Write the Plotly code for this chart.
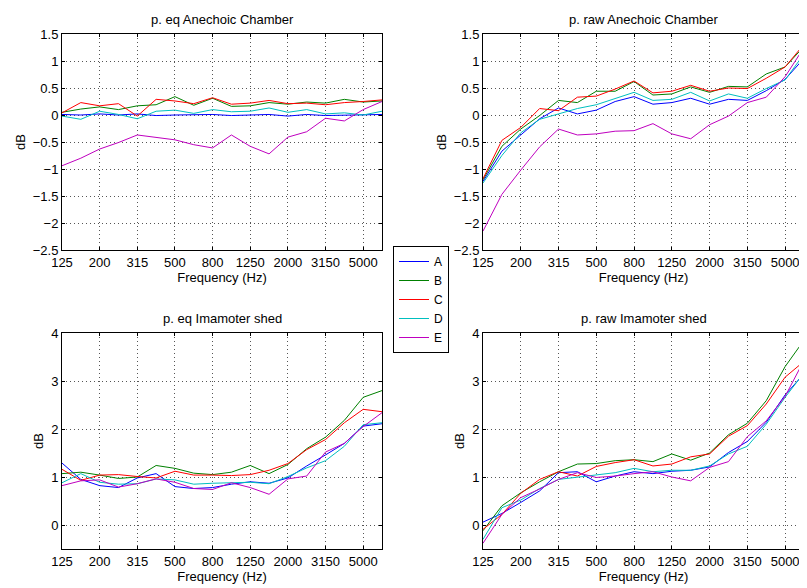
import plotly.graph_objects as go
from plotly.subplots import make_subplots

freq_labels = ["125", "160", "200", "250", "315", "400", "500", "630", "800", "1000",
               "1250", "1600", "2000", "2500", "3150", "4000", "5000", "6300"]
band_idx = list(range(len(freq_labels)))
tick_idx = [0, 2, 4, 6, 8, 10, 12, 14, 16]
tick_text = [freq_labels[i] for i in tick_idx]

series_names = ["A", "B", "C", "D", "E"]
series_colors = ["#0000FF", "#008000", "#FF0000", "#00BFBF", "#BF00BF"]

# p. eq Anechoic Chamber
eq_anech_A = [0.01, 0.0, 0.02, 0.0, 0.02, -0.01, 0.0, 0.0, 0.01, -0.01, 0.0, 0.01, -0.02, 0.01, -0.01, 0.0, 0.01, 0.01]
eq_anech_B = [0.05, 0.11, 0.15, 0.10, 0.17, 0.19, 0.34, 0.18, 0.31, 0.16, 0.17, 0.23, 0.20, 0.24, 0.22, 0.29, 0.24, 0.26]
eq_anech_C = [0.04, 0.23, 0.17, 0.21, -0.02, 0.29, 0.26, 0.21, 0.32, 0.20, 0.22, 0.27, 0.21, 0.22, 0.19, 0.23, 0.25, 0.28]
eq_anech_D = [-0.02, -0.08, 0.07, 0.01, -0.07, 0.07, 0.09, 0.03, 0.10, 0.06, 0.07, 0.13, 0.05, 0.10, 0.02, 0.04, 0.0, 0.07]
eq_anech_E = [-0.94, -0.80, -0.63, -0.51, -0.37, -0.41, -0.46, -0.55, -0.61, -0.37, -0.58, -0.72, -0.41, -0.31, -0.06, -0.11, 0.10, 0.25]

# p. raw Anechoic Chamber
raw_anech_A = [-1.23, -0.67, -0.37, -0.07, 0.13, 0.02, 0.09, 0.25, 0.34, 0.20, 0.23, 0.31, 0.20, 0.29, 0.27, 0.45, 0.66, 1.05]
raw_anech_B = [-1.20, -0.58, -0.26, -0.01, 0.27, 0.23, 0.44, 0.44, 0.62, 0.37, 0.39, 0.52, 0.42, 0.53, 0.52, 0.76, 0.89, 1.27]
raw_anech_C = [-1.18, -0.47, -0.23, 0.12, 0.08, 0.33, 0.35, 0.48, 0.63, 0.41, 0.44, 0.55, 0.44, 0.50, 0.49, 0.68, 0.89, 1.31]
raw_anech_D = [-1.26, -0.75, -0.33, -0.08, 0.02, 0.12, 0.19, 0.31, 0.42, 0.27, 0.29, 0.42, 0.26, 0.39, 0.31, 0.49, 0.65, 1.13]
raw_anech_E = [-2.15, -1.47, -1.02, -0.59, -0.26, -0.37, -0.35, -0.30, -0.29, -0.16, -0.35, -0.44, -0.18, -0.02, 0.23, 0.33, 0.71, 1.25]

# p. eq Imamoter shed
eq_shed_A = [1.29, 0.95, 0.82, 0.78, 0.98, 1.07, 0.80, 0.76, 0.78, 0.85, 0.90, 0.87, 0.98, 1.23, 1.46, 1.70, 2.06, 2.11]
eq_shed_B = [1.07, 1.10, 1.04, 0.97, 1.00, 1.24, 1.18, 1.08, 1.05, 1.10, 1.24, 1.07, 1.26, 1.59, 1.83, 2.18, 2.66, 2.80]
eq_shed_C = [1.16, 0.93, 1.04, 1.05, 1.01, 0.98, 1.12, 1.04, 1.04, 1.03, 1.05, 1.14, 1.28, 1.57, 1.78, 2.13, 2.41, 2.36]
eq_shed_D = [0.88, 1.07, 0.89, 0.85, 0.86, 0.96, 0.94, 0.85, 0.87, 0.88, 0.89, 0.86, 1.01, 1.19, 1.34, 1.64, 2.09, 2.13]
eq_shed_E = [0.82, 0.92, 0.94, 0.79, 0.86, 0.96, 0.89, 0.76, 0.74, 0.88, 0.78, 0.64, 0.96, 1.02, 1.52, 1.70, 2.05, 2.34]

# p. raw Imamoter shed
raw_shed_A = [0.06, 0.24, 0.47, 0.71, 1.09, 1.11, 0.90, 1.02, 1.11, 1.07, 1.12, 1.14, 1.21, 1.51, 1.74, 2.14, 2.71, 3.15]
raw_shed_B = [-0.12, 0.40, 0.67, 0.90, 1.11, 1.27, 1.28, 1.34, 1.36, 1.32, 1.48, 1.35, 1.50, 1.88, 2.12, 2.59, 3.30, 3.85]
raw_shed_C = [-0.09, 0.22, 0.66, 0.95, 1.11, 1.02, 1.22, 1.30, 1.36, 1.23, 1.27, 1.42, 1.48, 1.85, 2.07, 2.52, 3.08, 3.41]
raw_shed_D = [-0.30, 0.36, 0.52, 0.76, 0.95, 1.00, 1.05, 1.09, 1.18, 1.11, 1.14, 1.14, 1.23, 1.48, 1.64, 2.10, 2.66, 3.17]
raw_shed_E = [-0.38, 0.22, 0.57, 0.75, 0.95, 1.09, 0.99, 1.02, 1.07, 1.11, 1.00, 0.92, 1.20, 1.32, 1.84, 2.17, 2.68, 3.43]

panels = [
    ("p. eq Anechoic Chamber", 1, 1, [eq_anech_A, eq_anech_B, eq_anech_C, eq_anech_D, eq_anech_E]),
    ("p. raw Anechoic Chamber", 1, 2, [raw_anech_A, raw_anech_B, raw_anech_C, raw_anech_D, raw_anech_E]),
    ("p. eq Imamoter shed", 2, 1, [eq_shed_A, eq_shed_B, eq_shed_C, eq_shed_D, eq_shed_E]),
    ("p. raw Imamoter shed", 2, 2, [raw_shed_A, raw_shed_B, raw_shed_C, raw_shed_D, raw_shed_E]),
]

top_yticks = [-2.5, -2, -1.5, -1, -0.5, 0, 0.5, 1, 1.5]
top_yticktext = ["\u22122.5", "\u22122", "\u22121.5", "\u22121", "\u22120.5", "0", "0.5", "1", "1.5"]
bot_yticks = [0, 1, 2, 3, 4]
bot_yticktext = ["0", "1", "2", "3", "4"]

# the browser page body adds an 8 px offset; the figure is made 8 px smaller and
# all pixel positions below are reference positions minus that offset
OFF = 8
W, H = 807 - OFF, 588 - OFF
FONT = "Liberation Sans, Arial, Helvetica, sans-serif"
FS = 13


def px_x(v):
    return (v - OFF) / W


def px_y(v):
    return 1 - (v - OFF) / H


fig = make_subplots(rows=2, cols=2)

for p, (title, r, c, data) in enumerate(panels):
    for k, (name, color, ys) in enumerate(zip(series_names, series_colors, data)):
        fig.add_trace(go.Scatter(x=band_idx, y=ys, mode="lines", name=name,
                                 line=dict(color=color, width=1),
                                 showlegend=(p == 0)), row=r, col=c)

x_doms = {1: [px_x(62), px_x(382)], 2: [px_x(483), px_x(804)]}
y_doms = {1: [px_y(250), px_y(34)], 2: [px_y(549), px_y(333)]}

axis_common = dict(showline=True, linecolor="black", linewidth=1, mirror="ticks",
                   ticks="inside", ticklen=3, tickcolor="black", automargin=False,
                   showgrid=True, gridcolor="#555555", griddash="1px,3px", gridwidth=1,
                   zeroline=False, tickfont=dict(family=FONT, size=FS, color="black"))

for title, r, c, data in panels:
    fig.update_xaxes(domain=x_doms[c], range=[0, 17], tickvals=tick_idx, ticktext=tick_text,
                     title=dict(text="Frequency (Hz)", font=dict(family=FONT, size=FS, color="black"), standoff=1),
                     row=r, col=c, **axis_common)
    if r == 1:
        fig.update_yaxes(domain=y_doms[r], range=[-2.5, 1.5], tickvals=top_yticks, ticktext=top_yticktext,
                         row=r, col=c, **axis_common)
    else:
        fig.update_yaxes(domain=y_doms[r], range=[-0.5, 4], tickvals=bot_yticks, ticktext=bot_yticktext,
                         row=r, col=c, **axis_common)
    fig.update_yaxes(title=dict(text="dB", font=dict(family=FONT, size=FS, color="black"), standoff=4),
                     row=r, col=c)
    xd = x_doms[c]
    yd = y_doms[r]
    fig.add_annotation(text=title, x=(xd[0] + xd[1]) / 2, y=yd[1], xref="paper", yref="paper",
                       xanchor="center", yanchor="bottom", yshift=5, showarrow=False,
                       font=dict(family=FONT, size=FS, color="black"))

fig.update_layout(
    template="none",
    width=W, height=H,
    margin=dict(l=0, r=0, t=0, b=0, autoexpand=False),
    paper_bgcolor="white", plot_bgcolor="white",
    font=dict(family=FONT, size=FS, color="black"),
    legend=dict(x=px_x(393), y=px_y(246), xanchor="left", yanchor="top",
                bordercolor="black", borderwidth=1, bgcolor="white",
                font=dict(family=FONT, size=12, color="black"),
                itemwidth=30, tracegroupgap=0),
)

fig.write_html("out.html")
